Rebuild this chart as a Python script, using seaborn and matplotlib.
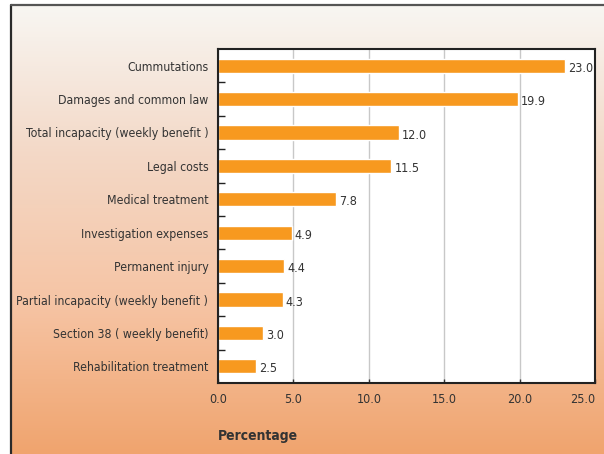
import numpy as np
import pandas as pd
import matplotlib
matplotlib.use("Agg")
import matplotlib.pyplot as plt
import seaborn as sns
from matplotlib.colors import LinearSegmentedColormap

# Data
categories = ["Cummutations", "Damages and common law", "Total incapacity (weekly benefit )",
              "Legal costs", "Medical treatment", "Investigation expenses", "Permanent injury",
              "Partial incapacity (weekly benefit )", "Section 38 ( weekly benefit)",
              "Rehabilitation treatment"]
values = [23.0, 19.9, 12.0, 11.5, 7.8, 4.9, 4.4, 4.3, 3.0, 2.5]
xticks = [0, 5, 10, 15, 20, 25]

df = pd.DataFrame({"category": categories, "value": values})

sns.set_style("white")
plt.rcParams["font.family"] = ["DejaVu Sans"]
plt.rcParams["font.stretch"] = "condensed"

fig = plt.figure(figsize=(6.04, 4.54), dpi=100)
fig.patch.set_facecolor("white")

# gradient background
bg = fig.add_axes([11 / 604, 0, 1 - 11 / 604, 1 - 6 / 454])
cmap = LinearSegmentedColormap.from_list("bg", ["#F8F6F2", "#F3D8C6", "#F6C4A4", "#F0A46E"])
grad = np.linspace(0, 1, 256).reshape(-1, 1)
bg.imshow(grad, aspect="auto", cmap=cmap, extent=[0, 1, 0, 1], origin="upper")
bg.set_xlim(0, 1)
bg.set_ylim(0, 1)
bg.axis("off")
fig.add_artist(plt.Line2D([11 / 604, 11 / 604], [0, 1 - 5 / 454], color="#2a2a2a", lw=1.6))
fig.add_artist(plt.Line2D([11 / 604, 1], [1 - 5 / 454, 1 - 5 / 454], color="#555555", lw=1.6))

ax = fig.add_axes([218 / 604, 1 - 383 / 454, (595 - 218) / 604, (383 - 49) / 454])
ax.set_facecolor("white")
sns.barplot(data=df, x="value", y="category", orient="h", color="#F7991F",
            saturation=1, width=0.42, ax=ax)

for i, v in enumerate(values):
    ax.text(v + 0.2, i + 0.08, f"{v:.1f}", va="center", ha="left", fontsize=9, color="#333333")

ax.set_xlim(0, 25)
ax.set_ylim(9.5, -0.5)
ax.set_xticks(xticks)
ax.set_xticklabels([f"{t:.1f}" for t in xticks], fontsize=9, color="#333333")
ax.get_xticklabels()[-1].set_ha("right")
ax.tick_params(axis="x", direction="in", length=3, width=1, color="#333333", pad=7, bottom=True)
ax.tick_params(axis="y", length=0, labelsize=8.8, labelcolor="#333333", pad=7)
ax.set_yticks(np.arange(0.5, 9.5, 1), minor=True)
ax.tick_params(axis="y", which="minor", direction="in", length=5, width=1, color="#222222", left=True)
ax.xaxis.grid(True, color="#C8C8C8", lw=1)
ax.set_axisbelow(True)
for s in ax.spines.values():
    s.set_color("#222222")
    s.set_linewidth(1.5)
ax.set_xlabel("")
ax.set_ylabel("")

fig.text(218 / 604, 1 - 436 / 454, "Percentage", fontsize=10, fontweight="bold",
         color="#333333", ha="left", va="center")

fig.savefig("out.png", dpi=100)
